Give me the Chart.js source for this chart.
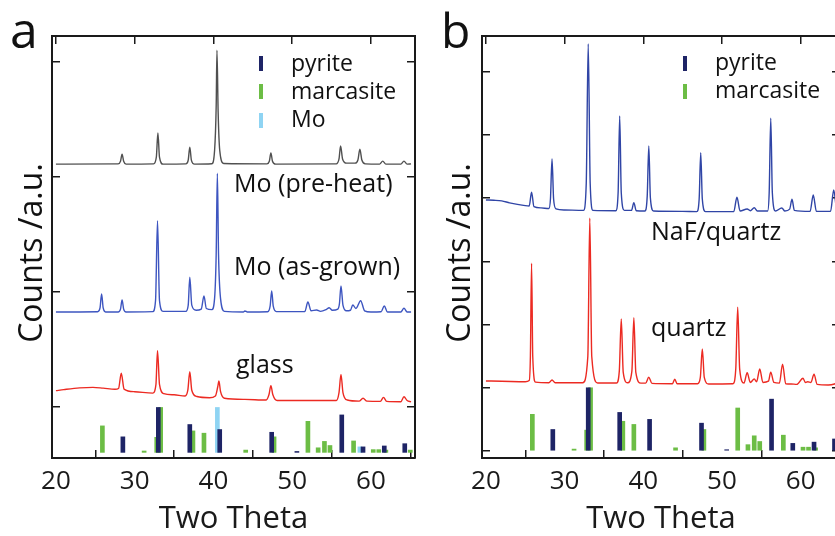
<!DOCTYPE html>
<html>
<head>
<meta charset="utf-8">
<script src="https://cdn.jsdelivr.net/npm/chart.js@4.4.0/dist/chart.umd.min.js"></script>
<style>
  body { margin: 0; background: #fff; width: 835px; height: 536px; overflow: hidden; position: relative;
         font-family: "Open Sans", sans-serif; color: #111; }
  canvas { position: absolute; top: 0; }
  .t { position: absolute; line-height: 1; white-space: nowrap; }
  .yt { position: absolute; line-height: 1; white-space: nowrap; font-size: 32px;
        transform: translate(-50%, -50%) rotate(-90deg); }
  .mk { position: absolute; width: 4px; height: 15px; }
</style>
</head>
<body>
<canvas id="chartA" width="420" height="550" style="left:0px"></canvas>
<canvas id="chartB" width="420" height="550" style="left:430px"></canvas>

<div class="t" style="left:10px;top:4px;font-size:50px">a</div>
<div class="t" style="left:441px;top:6px;font-size:48px">b</div>

<div class="yt" style="left:30px;top:253px">Counts /a.u.</div>
<div class="yt" style="left:458px;top:253px">Counts /a.u.</div>

<!-- legend a -->
<div class="mk" style="left:259px;top:56px;background:#1e2466"></div>
<div class="mk" style="left:259px;top:84px;background:#6cbd45"></div>
<div class="mk" style="left:259px;top:113px;background:#8fd4f3"></div>
<div class="t" style="left:291px;top:51px;font-size:23px">pyrite</div>
<div class="t" style="left:291px;top:79px;font-size:23px">marcasite</div>
<div class="t" style="left:291px;top:107px;font-size:23px">Mo</div>

<!-- legend b -->
<div class="mk" style="left:683px;top:56px;background:#1e2466"></div>
<div class="mk" style="left:683px;top:84px;background:#6cbd45"></div>
<div class="t" style="left:715px;top:50px;font-size:23px">pyrite</div>
<div class="t" style="left:715px;top:78px;font-size:23px">marcasite</div>

<!-- curve labels -->
<div class="t" style="left:234px;top:170px;font-size:25px">Mo (pre-heat)</div>
<div class="t" style="left:234px;top:253px;font-size:25px">Mo (as-grown)</div>
<div class="t" style="left:236px;top:351px;font-size:25px">glass</div>
<div class="t" style="left:651px;top:218px;font-size:25px">NaF/quartz</div>
<div class="t" style="left:651px;top:314px;font-size:25px">quartz</div>

<script>
// reference sticks: two theta and relative intensity (%)
var pyriteTheta = [28.5, 33.0, 37.0, 40.8, 47.4, 50.6, 56.3, 59.0, 61.7, 64.3];
var pyriteInt = [34, 100, 61, 50, 44, 2, 82, 12, 14, 19];
var marcasiteTheta = [25.9, 31.2, 32.8, 33.3, 37.4, 38.8, 44.1, 47.7, 52.0, 53.3, 54.1, 54.8, 57.8, 60.3, 61.0, 61.9, 65.0];
var marcasiteInt = [58, 3, 33, 100, 47, 42, 5, 34, 68, 10, 24, 15, 25, 6, 6, 5, 5];
var moTheta = [40.5, 58.6];
var moInt = [100, 12];

// measured patterns [two theta, counts above own baseline]
var preHeat = [[20,0],[27.9,0.2],[28.2,2.5],[28.4,8.7],[28.6,2.5],[28.9,0],[32.4,0.2],[32.75,6],[32.95,27],[33.15,6],[33.6,0],
  [36.5,0.2],[36.8,3.5],[37.0,14.8],[37.2,3.5],[37.6,0],[39.8,0.3],[40.15,12],[40.35,50],[40.45,99],[40.6,45],[40.8,12],[41.3,0.5],
  [46.8,0.2],[47.1,2.5],[47.3,9.6],[47.5,2.5],[47.9,0],[55.6,0.2],[55.95,4.5],[56.15,15.7],[56.4,4.5],[56.9,0.8],[58.0,0.8],
  [58.35,3.5],[58.6,13],[58.85,3.5],[59.3,0.2],[61.1,0],[61.5,2.6],[61.9,0],[63.8,0],[64.2,2.6],[64.6,0],[65.1,0.2]];
var asGrown = [[20,0],[25.3,0.2],[25.6,3.5],[25.8,15.7],[26.0,3.5],[26.3,0],[27.9,0],[28.2,2.5],[28.4,10.4],[28.6,2.5],[28.9,0],
  [32.3,0.3],[32.65,10],[32.9,79.4],[33.15,10],[33.6,0.5],[36.5,0.5],[36.8,6],[37.0,30.2],[37.25,6],[37.8,1.5],[38.45,2.5],
  [38.8,13.9],[39.1,3],[39.8,2],[40.15,12],[40.35,50],[40.5,120.6],[40.65,50],[40.9,12],[41.4,0.5],[43.8,0],[44.0,0.9],[44.3,0],
  [46.9,0.2],[47.2,5],[47.4,18.3],[47.6,5],[48.0,0.3],[51.6,0.3],[52.0,8.7],[52.4,1],[53.1,1.7],[53.6,0.5],[54.3,2],[54.7,3.7],
  [55.1,1.5],[55.8,2.5],[56.0,7],[56.2,22.6],[56.45,6],[56.9,1],[57.4,1.5],[57.7,6.1],[58.1,3],[58.7,9.8],[59.2,1],[60,0],
  [61.3,0.2],[61.7,5.2],[62.1,0],[63.8,0],[64.2,3.2],[64.6,0],[65.1,0]];
var glass = [[20,9.6],[21,10.5],[23,12],[24.7,12.5],[26,11.8],[27.5,10.8],[27.95,11.5],[28.3,24.7],[28.65,11],[30,8.7],[32.3,7.5],
  [32.7,15],[32.9,44.4],[33.15,15],[33.7,7],[35,6],[36.4,5],[36.75,10],[37.0,26.1],[37.25,10],[37.9,4.5],[39.5,3.5],[40.25,5],
  [40.55,13],[40.7,18],[40.9,9],[41.4,3],[44,2],[46.7,1.5],[47.05,6],[47.3,13.9],[47.55,6],[48.1,1],[52,1],[55.6,1],[55.95,8],
  [56.2,23.8],[56.45,8],[57,1.5],[58.5,0.5],[59,3],[59.5,0.5],[61.2,0.3],[61.6,3.8],[62,0.3],[63.8,0],[64.2,4.3],[64.6,1],[65.1,0]];
var nafQuartz = [[20,18.5],[21,18],[22,17],[23,14],[24,11.5],[25,9.5],[25.5,9],[25.8,30.7],[26.1,8],[27,6],[28.0,5],[28.2,20],
  [28.4,83.4],[28.6,20],[28.9,4.5],[30,2.7],[32.4,2],[32.75,45],[33.0,265.3],[33.25,45],[33.6,2],[36.5,1.5],[36.8,30],[37.0,151.4],
  [37.2,30],[37.6,2],[38.5,2],[38.8,14.2],[39.1,1.5],[40.2,1],[40.5,25],[40.7,104],[40.9,22],[41.3,1],[45,0.5],[46.8,0],[47.1,20],
  [47.3,93.3],[47.5,20],[47.9,0],[51.5,0],[51.9,22.8],[52.3,1],[53.2,4.3],[53.6,1.5],[54.1,6.3],[54.5,1],[55.8,1],[56.0,30],
  [56.2,147.8],[56.4,30],[56.8,1],[57.6,5.9],[58.0,1],[58.6,4],[58.9,19.6],[59.2,2],[61.2,0.5],[61.6,26.4],[62.0,0.5],[63.8,0.5],
  [64.2,34.3],[64.6,2],[65,0]];
var quartz = [[20,6.3],[22,6],[25.0,5.2],[25.5,7],[25.65,45],[25.8,192.5],[25.95,45],[26.3,4.5],[28.0,3.5],[28.4,7.9],[28.8,3.5],
  [32.3,3.5],[32.95,45],[33.2,263.7],[33.45,45],[34.2,3.2],[36.6,3.2],[36.95,22],[37.2,104.4],[37.45,20],[38.0,3.5],[38.55,22],
  [38.8,106.5],[39.05,20],[39.7,3],[40.3,3],[40.7,12.2],[41.1,2.5],[43.7,2],[44.0,9],[44.3,2],[46.9,2],[47.25,12],[47.5,57],
  [47.75,12],[48.3,1.6],[51.4,2],[51.75,25],[52.0,122.9],[52.25,25],[52.8,3],[53.2,19.5],[53.6,4],[54.1,9.5],[54.4,5],[54.8,25.3],
  [55.2,4],[55.9,6],[56.2,20.1],[56.6,4],[57.3,3],[57.7,33],[58.1,2],[58.8,1.6],[59.5,1],[60.3,10.6],[60.6,4],[60.9,5.2],[61.3,4],
  [61.7,16.9],[62.1,1],[63.5,0],[64.3,1.6],[65,6]];

var xTicks = [20, 30, 40, 50, 60];
var yTicksA = [0, 100, 200, 300];
var yTicksB = [0, 100, 200, 300, 400, 500, 600];

var ink = '#1a1a1a';
var font = 'Open Sans';

function pattern(points, shift, color) {
  return {
    type: 'line',
    data: points.map(function(p) { return {x: p[0], y: p[1] + shift}; }),
    borderColor: color, borderWidth: 1.4, pointRadius: 0,
    cubicInterpolationMode: 'monotone', fill: false
  };
}

function sticks(theta, ints, base, scale, color) {
  return {
    type: 'bar',
    data: theta.map(function(t, i) { return {x: t, y: [base, base + ints[i] * scale]}; }),
    backgroundColor: color, barThickness: 4, grouped: false, borderWidth: 0
  };
}

function axes(xMin, xMax, yMin, yMax, yTicks, rightWidth) {
  var frame = {display: true, color: ink, width: 2};
  var grid = {drawOnChartArea: false, tickLength: -8, color: ink, lineWidth: 1.5};
  var setX = function(s) { s.ticks = xTicks.map(function(v) { return {value: v}; }); };
  var setY = function(s) { s.ticks = yTicks.map(function(v) { return {value: v}; }); };
  return {
    x: {type: 'linear', position: 'bottom', min: xMin, max: xMax, offset: false, border: frame, grid: grid,
        ticks: {font: {family: font, size: 26}, color: ink, padding: 16, maxRotation: 0, autoSkip: false},
        afterBuildTicks: setX, afterFit: function(s) { s.height = 92; },
        title: {display: true, text: 'Two Theta', font: {family: font, size: 31}, color: ink, padding: {top: 0, bottom: 12}}},
    x2: {type: 'linear', position: 'top', min: xMin, max: xMax, offset: false, border: frame, grid: grid,
         ticks: {display: false}, afterBuildTicks: setX, afterFit: function(s) { s.height = 0; }},
    y: {type: 'linear', position: 'left', min: yMin, max: yMax, border: frame, grid: grid,
        ticks: {display: false}, afterBuildTicks: setY, afterFit: function(s) { s.width = 52; }},
    y2: {type: 'linear', position: 'right', min: yMin, max: yMax, border: frame, grid: grid,
         ticks: {display: false}, afterBuildTicks: setY, afterFit: function(s) { s.width = rightWidth; }}
  };
}

function options(scales) {
  return {
    responsive: false, animation: false,
    layout: {padding: {top: 36, left: 0, right: 0, bottom: 0}},
    plugins: {legend: {display: false}, tooltip: {enabled: false}},
    scales: scales
  };
}

new Chart(document.getElementById('chartA'), {
  type: 'line',
  data: {datasets: [
    pattern(preHeat, 211, '#505050'),
    pattern(asGrown, 82.4, '#3d55c0'),
    pattern(glass, 4.35, '#ec2a22'),
    sticks(pyriteTheta, pyriteInt, -39.7, 0.397, '#1e2466'),
    sticks(moTheta, moInt, -39.7, 0.397, '#8fd4f3'),
    sticks(marcasiteTheta, marcasiteInt, -39.7, 0.397, '#6cbd45')
  ]},
  options: options(axes(19.5, 65.6, -44.6, 322.4, yTicksA, 5))
});

new Chart(document.getElementById('chartB'), {
  type: 'line',
  data: {datasets: [
    pattern(nafQuartz, 378.6, '#3045a6'),
    pattern(quartz, 104.4, '#ec2a22'),
    sticks(pyriteTheta, pyriteInt, 0, 1, '#1e2466'),
    sticks(marcasiteTheta, marcasiteInt, 0, 1, '#6cbd45')
  ]},
  options: options(axes(19.5, 65, -11.1, 656.5, yTicksB, 10))
});
</script>
</body>
</html>
